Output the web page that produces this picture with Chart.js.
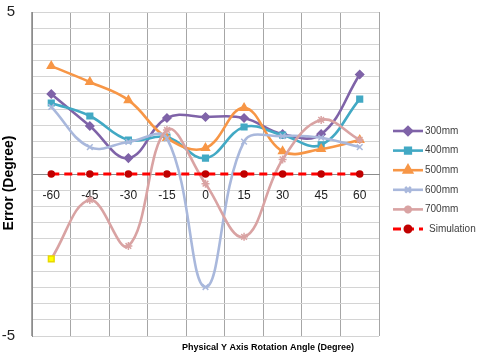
<!DOCTYPE html>
<html>
<head>
<meta charset="utf-8">
<script src="https://cdn.jsdelivr.net/npm/chart.js@4.4.0/dist/chart.umd.min.js"></script>
<style>
  html, body { margin: 0; padding: 0; background: #fff; }
</style>
</head>
<body>
<canvas id="errorChart" width="477" height="352"></canvas>
<script>
// data
const angles = ["-60", "-45", "-30", "-15", "0", "15", "30", "45", "60"];
const err300 = [2.47, 1.48, 0.49, 1.73, 1.76, 1.73, 1.23, 1.23, 3.07];
const err400 = [2.19, 1.79, 1.05, 1.14, 0.49, 1.45, 1.2, 0.9, 2.31];
const err500 = [3.33, 2.84, 2.28, 1.11, 0.8, 2.04, 0.7, 0.77, 1.05];
const err600 = [2.07, 0.83, 0.99, 1.1, -3.49, 1.0, 1.17, 1.12, 0.83];
const err700 = [-2.62, -0.8, -2.22, 1.36, -0.3, -1.94, 0.45, 1.67, 1.05];
const simulation = [0, 0, 0, 0, 0, 0, 0, 0, 0];
const yLabelsShown = [5, -5];

const xTitle = "Physical Y Axis Rotation Angle (Degree)";
const yTitle = "Error (Degree)";
const fontFamily = "'Liberation Sans', Arial, sans-serif";

function series(label, data, color, style, radius, order) {
  return {
    label,
    data,
    borderColor: color,
    backgroundColor: color,
    pointBackgroundColor: color,
    pointBorderColor: color,
    pointStyle: style,
    pointRadius: radius,
    pointBorderWidth: 1.5,
    borderWidth: 2.6,
    tension: 0.4,
    order,
  };
}

const ds700 = series("700mm", err700, "#D9A3A3", "star", 4, 2);
// first 700mm point is highlighted yellow in the original
ds700.pointStyle = err700.map((v, i) => (i === 0 ? "rect" : "star"));
ds700.pointBackgroundColor = err700.map((v, i) => (i === 0 ? "#FFFF00" : "#D9A3A3"));
ds700.pointBorderColor = err700.map((v, i) => (i === 0 ? "#E8D800" : "#D9A3A3"));

const simDs = series("Simulation", simulation, "#FF0000", "circle", 3, 1);
simDs.borderDash = [8, 5];
simDs.borderWidth = 3;
simDs.pointBackgroundColor = "#C00000";
simDs.pointBorderColor = "#C00000";
simDs.tension = 0;

const datasets = [
  series("300mm", err300, "#7F63A8", "rectRot", 4, 7),
  series("400mm", err400, "#42A9C4", "rect", 4, 6),
  series("500mm", err500, "#F79646", "triangle", 4.5, 5),
  series("600mm", err600, "#A9B8DC", "crossRot", 4, 3),
  ds700,
  simDs,
];

// y labels, titles and legend drawn by hand to match the original placement
const sideText = {
  id: "sideText",
  afterDraw(chart) {
    const ctx = chart.ctx;
    const area = chart.chartArea;
    const yScale = chart.scales.y;
    ctx.save();

    // only 5 and -5 are labelled on the y axis
    ctx.font = "15px " + fontFamily;
    ctx.fillStyle = "#222";
    ctx.textAlign = "right";
    ctx.textBaseline = "middle";
    yLabelsShown.forEach((v) => {
      ctx.fillText(String(v), area.left - 17, yScale.getPixelForValue(v));
    });

    ctx.save();
    ctx.translate(9, 183);
    ctx.rotate(-Math.PI / 2);
    ctx.font = "bold 14px " + fontFamily;
    ctx.fillStyle = "#000";
    ctx.textAlign = "center";
    ctx.fillText(yTitle, 0, 0);
    ctx.restore();

    ctx.font = "bold 9px " + fontFamily;
    ctx.fillStyle = "#000";
    ctx.textAlign = "center";
    ctx.textBaseline = "middle";
    ctx.fillText(xTitle, 268, 348);

    const lx = area.right + 14;
    chart.data.datasets.forEach((ds, i) => {
      const y = 131 + i * 19.6;
      ctx.save();
      ctx.strokeStyle = ds.borderColor;
      ctx.lineWidth = ds.borderWidth;
      ctx.setLineDash(ds.borderDash || []);
      ctx.beginPath();
      ctx.moveTo(lx, y);
      ctx.lineTo(lx + 30, y);
      ctx.stroke();
      ctx.setLineDash([]);
      ctx.fillStyle = ds.borderColor;
      ctx.strokeStyle = ds.borderColor;
      if (ds.label === "Simulation") {
        ctx.fillStyle = "#C00000";
        ctx.strokeStyle = "#C00000";
      }
      Chart.helpers.drawPoint(ctx, {
        pointStyle: ds.label === "700mm" ? "star" : ds.pointStyle,
        radius: ds.pointRadius,
        rotation: 0,
        borderWidth: 1.5,
      }, lx + 15, y);
      ctx.restore();

      ctx.font = "10px " + fontFamily;
      ctx.fillStyle = "#404040";
      ctx.textAlign = "left";
      ctx.textBaseline = "middle";
      ctx.fillText(ds.label, lx + (ds.label === "Simulation" ? 36 : 32), y);
    });

    ctx.restore();
  },
};

const chart = new Chart(document.getElementById("errorChart"), {
  type: "line",
  data: { labels: angles, datasets },
  options: {
    responsive: false,
    animation: false,
    layout: { padding: { top: 12, right: 98, bottom: 16, left: 0 } },
    plugins: {
      legend: { display: false },
      tooltip: { enabled: false },
    },
    scales: {
      x: {
        position: { y: 0 },
        offset: true,
        grid: { offset: true, color: "#A6A6A6", drawTicks: false },
        border: { color: "#8C8C8C" },
        ticks: {
          padding: 14,
          color: "#222",
          font: { size: 12, family: fontFamily },
          maxRotation: 0,
        },
      },
      y: {
        min: -5,
        max: 5,
        grid: { color: "#D4D4D4", drawTicks: false },
        border: { color: "#8C8C8C" },
        ticks: {
          display: false,
          stepSize: 0.5,
          autoSkip: false,
          maxTicksLimit: 30,
        },
        afterFit(scale) {
          scale.width = 32;
        },
      },
    },
  },
  plugins: [sideText],
});
</script>
</body>
</html>
